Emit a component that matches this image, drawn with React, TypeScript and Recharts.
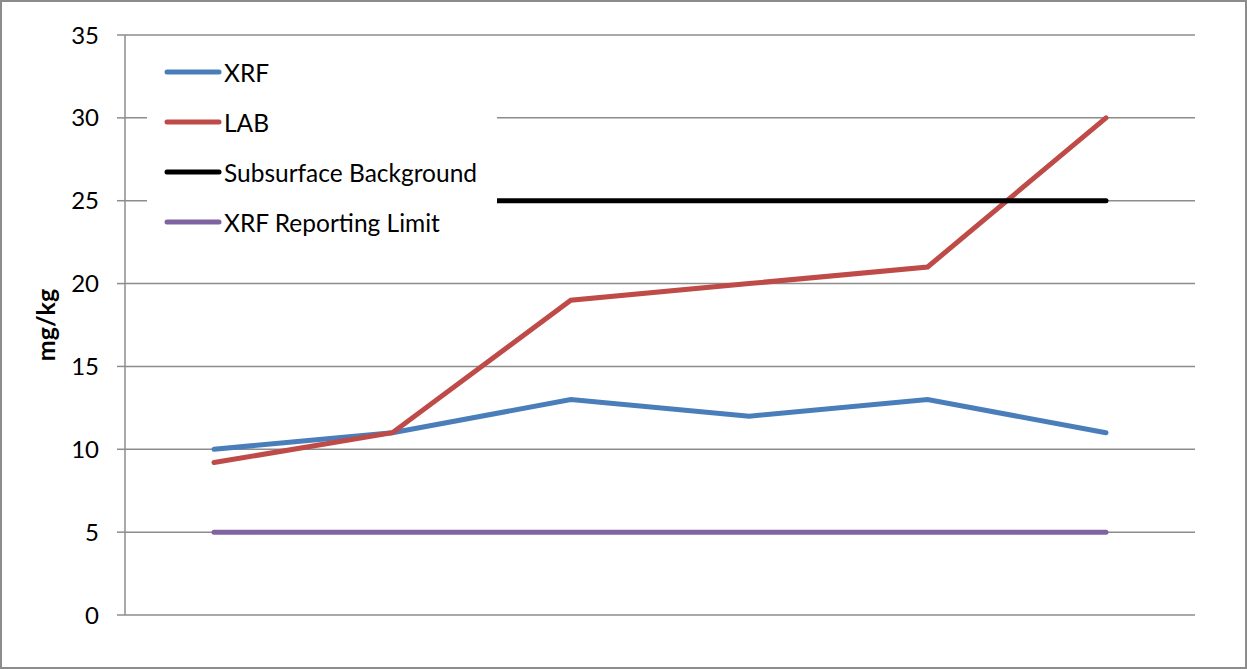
import React from 'react'
import { LineChart, Line, XAxis, YAxis, CartesianGrid } from 'recharts'

const samples = ['S1', 'S2', 'S3', 'S4', 'S5', 'S6']
const xrf = [10, 11, 13, 12, 13, 11]
const lab = [9.2, 11, 19, 20, 21, 30]
const background = [25, 25, 25, 25, 25, 25]
const reportingLimit = [5, 5, 5, 5, 5, 5]
const yTicks = [0, 5, 10, 15, 20, 25, 30, 35]

const seriesInfo = [
  { key: 'xrf', name: 'XRF', color: '#4a7ebb' },
  { key: 'lab', name: 'LAB', color: '#be4b48' },
  { key: 'bg', name: 'Subsurface Background', color: '#000000' },
  { key: 'limit', name: 'XRF Reporting Limit', color: '#8064a2' },
]

const data = samples.map((s, i) => ({
  sample: s,
  xrf: xrf[i],
  lab: lab[i],
  bg: background[i],
  limit: reportingLimit[i],
}))

const FONT = 'Lato, "Open Sans", sans-serif'

// legend sits on top of the plot with a white box, like the original
function LegendBox() {
  return (
    <div
      style={{
        position: 'absolute',
        left: 147,
        top: 47,
        background: '#fff',
        width: 350,
        height: 200,
        boxSizing: 'border-box',
        fontFamily: FONT,
        fontSize: 24.5,
        color: '#000',
      }}
    >
      {seriesInfo.map((s) => (
        <div key={s.key} style={{ display: 'flex', alignItems: 'center', height: 50 }}>
          <svg width={58} height={10} style={{ marginLeft: 17 }}>
            <line x1={3} y1={5} x2={55} y2={5} stroke={s.color} strokeWidth={5} strokeLinecap="round" />
          </svg>
          <span style={{ marginLeft: 2 }}>{s.name}</span>
        </div>
      ))}
    </div>
  )
}

export default function App() {
  return (
    <div
      style={{
        position: 'absolute',
        left: 0,
        top: 0,
        width: 1247,
        height: 669,
        boxSizing: 'border-box',
        border: '2px solid #8c8c8c',
        background: '#fff',
      }}
    >
      <div style={{ position: 'absolute', left: -2, top: -2, width: 1247, height: 669 }}>
        <LineChart width={1247} height={669} data={data} margin={{ top: 35, right: 52, bottom: 54, left: 0 }}>
          <CartesianGrid vertical={false} stroke="#8c8c8c" strokeWidth={1.5} />
          <XAxis
            dataKey="sample"
            tick={false}
            tickLine={false}
            height={0}
            padding={{ left: 89, right: 89 }}
            axisLine={{ stroke: '#8c8c8c', strokeWidth: 1.5 }}
          />
          <YAxis
            width={125}
            domain={[0, 35]}
            ticks={yTicks}
            interval={0}
            tickSize={8}
            tickMargin={18}
            tickLine={{ stroke: '#8c8c8c', strokeWidth: 1.5 }}
            axisLine={{ stroke: '#8c8c8c', strokeWidth: 1.5 }}
            tick={{ fill: '#000', fontSize: 24, fontFamily: FONT }}
            label={{
              content: (props: any) => {
                const vb = props.viewBox
                const cx = 45
                const cy = vb.y + vb.height / 2
                return (
                  <text
                    x={cx}
                    y={cy}
                    transform={`rotate(-90 ${cx} ${cy})`}
                    textAnchor="middle"
                    dominantBaseline="central"
                    fontFamily={FONT}
                    fontWeight="bold"
                    fontSize={25}
                    fill="#000"
                  >
                    mg/kg
                  </text>
                )
              },
            }}
          />
          {seriesInfo.map((s) => (
            <Line
              key={s.key}
              type="linear"
              dataKey={s.key}
              name={s.name}
              stroke={s.color}
              strokeWidth={5}
              strokeLinecap="round"
              dot={false}
              activeDot={false}
              isAnimationActive={false}
            />
          ))}
        </LineChart>
        <LegendBox />
      </div>
    </div>
  )
}
